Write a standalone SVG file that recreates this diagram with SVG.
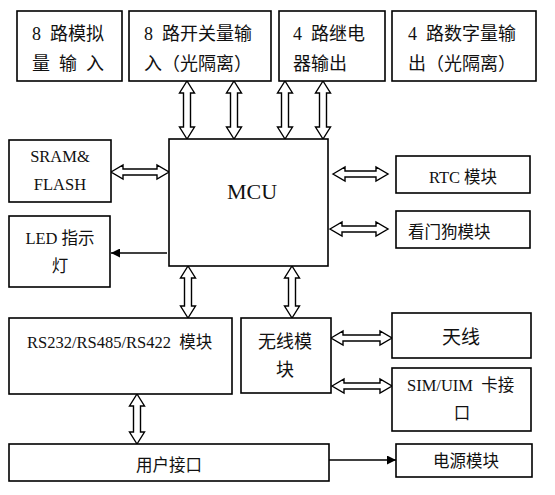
<svg xmlns="http://www.w3.org/2000/svg" width="555" height="495" viewBox="0 0 555 495">
<style>
.box{fill:#fff;stroke:#000;stroke-width:1.6}
.arr{fill:#fff;stroke:#000;stroke-width:1.4;stroke-linejoin:miter}
.ln{fill:none;stroke:#000;stroke-width:1.6}
text{font-family:"Liberation Serif","Noto Sans CJK SC",serif;fill:#111}
.t18{font-size:18px;word-spacing:4.5px}
.t16{font-size:16.5px}
.mid{text-anchor:middle}
</style>
<defs>
<marker id="fa" viewBox="0 0 10 10" refX="10" refY="5" markerWidth="10" markerHeight="9" markerUnits="userSpaceOnUse" orient="auto">
<path d="M0,0 L10,5 L0,10 Z" fill="#000"/>
</marker>
</defs>
<rect width="555" height="495" fill="#fff"/>
<g id="connectors">
<path class="arr" d="M187,81 L194.5,93 L190.5,93 L190.5,127 L194.5,127 L187,139 L179.5,127 L183.5,127 L183.5,93 L179.5,93 Z"/>
<path class="arr" d="M234,81 L241.5,93 L237.5,93 L237.5,127 L241.5,127 L234,139 L226.5,127 L230.5,127 L230.5,93 L226.5,93 Z"/>
<path class="arr" d="M285,81 L292.5,93 L288.5,93 L288.5,127 L292.5,127 L285,139 L277.5,127 L281.5,127 L281.5,93 L277.5,93 Z"/>
<path class="arr" d="M323,81 L330.5,93 L326.5,93 L326.5,127 L330.5,127 L323,139 L315.5,127 L319.5,127 L319.5,93 L315.5,93 Z"/>
<path class="arr" d="M188,266 L195.5,278 L191.5,278 L191.5,306 L195.5,306 L188,318 L180.5,306 L184.5,306 L184.5,278 L180.5,278 Z"/>
<path class="arr" d="M292,266 L299.5,278 L295.5,278 L295.5,306 L299.5,306 L292,318 L284.5,306 L288.5,306 L288.5,278 L284.5,278 Z"/>
<path class="arr" d="M137,394 L144.5,406 L140.5,406 L140.5,432 L144.5,432 L137,444 L129.5,432 L133.5,432 L133.5,406 L129.5,406 Z"/>
<path class="arr" d="M111,172 L123,165 L123,169 L157,169 L157,165 L169,172 L157,179 L157,175 L123,175 L123,179 Z"/>
<path class="arr" d="M333,174 L345,167 L345,171 L376,171 L376,167 L388,174 L376,181 L376,177 L345,177 L345,181 Z"/>
<path class="arr" d="M330,229 L342,222 L342,226 L376,226 L376,222 L388,229 L376,236 L376,232 L342,232 L342,236 Z"/>
<path class="arr" d="M331,338 L343,331 L343,335 L380,335 L380,331 L392,338 L380,345 L380,341 L343,341 L343,345 Z"/>
<path class="arr" d="M332,386 L344,379 L344,383 L380,383 L380,379 L392,386 L380,393 L380,389 L344,389 L344,393 Z"/>
<line class="ln" x1="167" y1="253" x2="111" y2="253" marker-end="url(#fa)"/>
<line class="ln" x1="329" y1="460" x2="396" y2="460" marker-end="url(#fa)"/>
</g>
<g id="analog-in">
<rect class="box" x="17" y="11" width="105" height="70"/>
<text class="t18" x="32" y="40">8 路模拟</text>
<text class="t18" x="32" y="70">量 输 入</text>
</g>
<g id="switch-in">
<rect class="box" x="129" y="11" width="142" height="70"/>
<text class="t18" x="144" y="40">8 路开关量输</text>
<text class="t18" x="144" y="70">入（光隔离）</text>
</g>
<g id="relay-out">
<rect class="box" x="279" y="11" width="106" height="70"/>
<text class="t18" x="293" y="40">4 路继电</text>
<text class="t18" x="293" y="70">器输出</text>
</g>
<g id="digital-out">
<rect class="box" x="392" y="11" width="144" height="70"/>
<text class="t18" x="408" y="40">4 路数字量输</text>
<text class="t18" x="408" y="70">出（光隔离）</text>
</g>
<g id="mcu">
<rect class="box" x="169" y="139" width="159" height="127"/>
<text class="mid" x="252" y="199" font-size="22">MCU</text>
</g>
<g id="sram">
<rect class="box" x="9" y="140" width="102" height="62"/>
<text class="t16 mid" x="60" y="162">SRAM&amp;</text>
<text class="t16 mid" x="60" y="190">FLASH</text>
</g>
<g id="led">
<rect class="box" x="9" y="216" width="101" height="71"/>
<text class="t16 mid" x="60" y="244">LED 指示</text>
<text class="t16 mid" x="60" y="272">灯</text>
</g>
<g id="rtc">
<rect class="box" x="396" y="156" width="134" height="37"/>
<text class="t16 mid" x="463" y="183">RTC 模块</text>
</g>
<g id="watchdog">
<rect class="box" x="396" y="211" width="134" height="37"/>
<text class="t16" x="408" y="238">看门狗模块</text>
</g>
<g id="rs">
<rect class="box" x="9" y="318" width="223" height="76"/>
<text class="t16" x="27" y="348" xml:space="preserve">RS232/RS485/RS422  模块</text>
</g>
<g id="wireless">
<rect class="box" x="241" y="318" width="90" height="75"/>
<text class="t18 mid" x="285" y="348">无线模</text>
<text class="t18 mid" x="285" y="376">块</text>
</g>
<g id="antenna">
<rect class="box" x="392" y="313" width="139" height="45"/>
<text class="mid" x="461" y="344" font-size="19">天线</text>
</g>
<g id="sim">
<rect class="box" x="392" y="368" width="139" height="63"/>
<text class="t16" x="407" y="391" xml:space="preserve">SIM/UIM  卡接</text>
<text class="t16 mid" x="462" y="419">口</text>
</g>
<g id="user">
<rect class="box" x="9" y="444" width="320" height="37"/>
<text class="t16 mid" x="169" y="471">用户接口</text>
</g>
<g id="power">
<rect class="box" x="396" y="444" width="136" height="33"/>
<text class="t16" x="433" y="467">电源模块</text>
</g>
</svg>
